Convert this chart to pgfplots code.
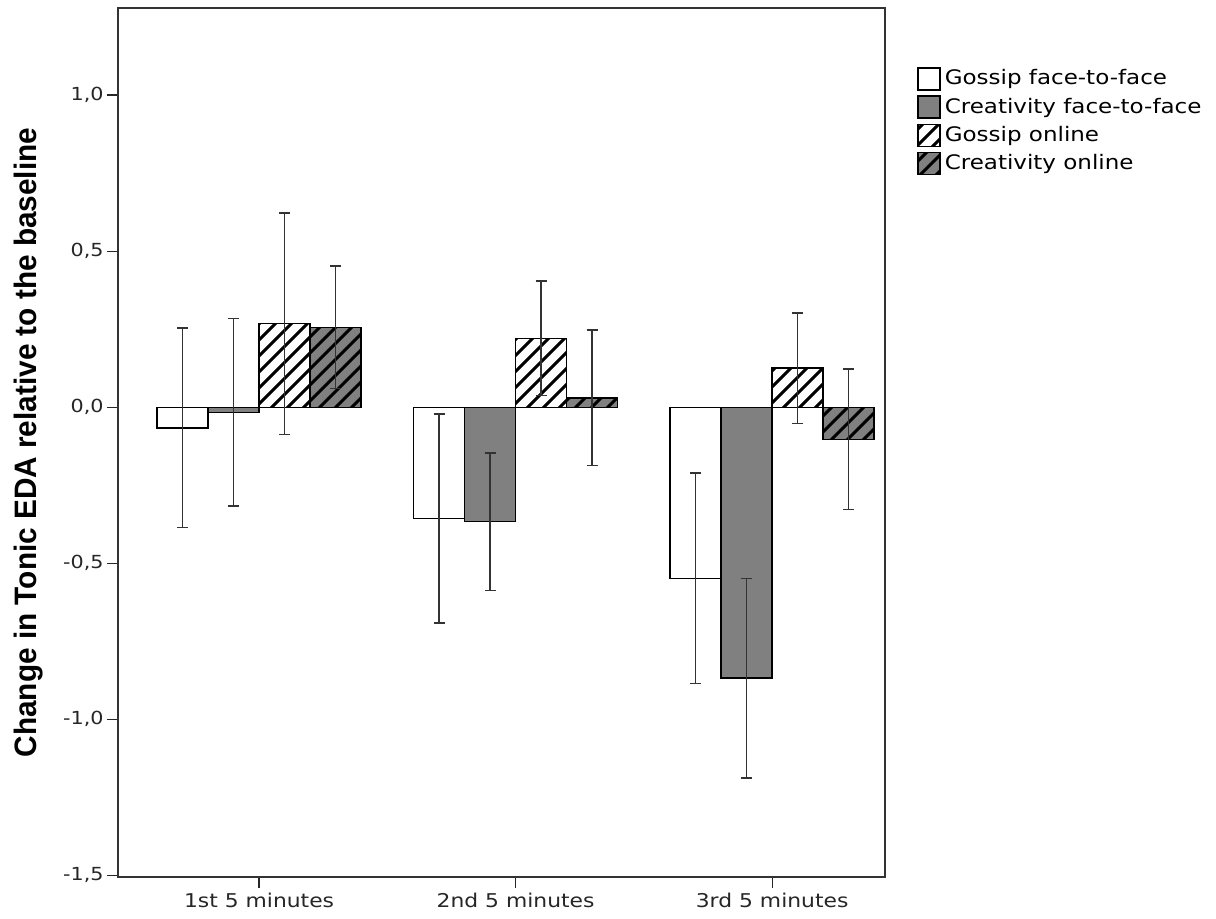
\documentclass[border=0pt]{standalone}
\usepackage{fontspec}
\setmainfont{DejaVu Sans}
\newfontfamily\tickfont[FakeStretch=1.15]{DejaVu Sans}
\newfontfamily\labfont[FakeStretch=0.96]{Liberation Sans}
\usepackage{pgfplots}
\pgfplotsset{compat=1.18}
\usepackage{pgfplotstable}
\usetikzlibrary{patterns}
\newcommand\hatchlines{%
  \pgfsetstrokecolor{black}\pgfsetlinewidth{1.5pt}%
  \pgfpathmoveto{\pgfqpoint{-2pt}{-2pt}}\pgfpathlineto{\pgfqpoint{10pt}{10pt}}%
  \pgfpathmoveto{\pgfqpoint{-2pt}{6pt}}\pgfpathlineto{\pgfqpoint{10pt}{18pt}}%
  \pgfpathmoveto{\pgfqpoint{-2pt}{-10pt}}\pgfpathlineto{\pgfqpoint{10pt}{2pt}}%
  \pgfusepath{stroke}}
\pgfdeclarepatterninherentlycolored{hatchwhite}{\pgfqpoint{-0.5pt}{-0.5pt}}{\pgfqpoint{8.5pt}{8.5pt}}{\pgfqpoint{8pt}{8pt}}{%
  \pgfsetfillcolor{white}\pgfpathrectangle{\pgfqpoint{-0.5pt}{-0.5pt}}{\pgfqpoint{9pt}{9pt}}\pgfusepath{fill}%
  \hatchlines}
\pgfdeclarepatterninherentlycolored{hatchgray}{\pgfqpoint{-0.5pt}{-0.5pt}}{\pgfqpoint{8.5pt}{8.5pt}}{\pgfqpoint{8pt}{8pt}}{%
  \pgfsetfillcolor{gray}\pgfpathrectangle{\pgfqpoint{-0.5pt}{-0.5pt}}{\pgfqpoint{9pt}{9pt}}\pgfusepath{fill}%
  \hatchlines}
\pgfplotstableread{
x   gf      gfe    cf      cfe    go     goe    co      coe
0  -0.066  0.319  -0.016  0.301  0.268  0.355  0.256   0.196
1  -0.357  0.335  -0.367  0.220  0.221  0.183  0.030   0.217
2  -0.548  0.337  -0.868  0.320  0.125  0.177  -0.103  0.225
}\datatable
\begin{document}
\begin{tikzpicture}
\useasboundingbox (0,0) rectangle (608pt,459.5pt);
\begin{axis}[
  at={(59pt,21pt)}, anchor=south west,
  scale only axis, width=383.5pt, height=434.5pt,
  xmin=-0.55, xmax=2.44, ymin=-1.505, ymax=1.279,
  ybar=0pt, bar width=25.5pt,
  axis line style={black!80, line width=0.8pt},
  xtick={0,1,2},
  xticklabels={1st 5 minutes,2nd 5 minutes,3rd 5 minutes},
  ytick={-1.5,-1,-0.5,0,0.5,1},
  /pgf/number format/use comma,
  /pgf/number format/fixed,
  /pgf/number format/fixed zerofill,
  /pgf/number format/precision=1,
  /pgf/number format/assume math mode=true,
  y tick label style={font=\tickfont\fontsize{9pt}{10pt}\selectfont, black!85, inner sep=1.5pt},
  x tick label style={font=\tickfont\fontsize{9.5pt}{11pt}\selectfont, black!85, yshift=1pt},
  tick align=outside, tick pos=left,
  major tick length=5.5pt,
  tick style={black!85, line width=0.6pt},
  ylabel={Change in Tonic EDA relative to the baseline},
  ylabel style={font=\labfont\bfseries\fontsize{15.5pt}{17pt}\selectfont, at={(axis description cs:-0.117,0.5)}, anchor=center},
  legend style={at={(1.0417,0.934)}, anchor=north west, draw=none, fill=none,
    font=\tickfont\fontsize{10pt}{12pt}\selectfont, row sep=1pt, inner sep=0pt,
    cells={anchor=west}},
  error bars/y dir=both, error bars/y explicit,
  error bars/error bar style={black!80, line width=0.75pt},
  error bars/error mark options={black!80, line width=0.75pt, mark size=2.75pt, rotate=90},
]
\addplot[draw=black, line width=0.7pt, fill=white, legend image code/.code={\draw[black, line width=0.7pt, fill=white] (0pt,-5.5pt) rectangle (11pt,5.5pt);}]
  table[x=x, y=gf, y error=gfe]{\datatable};
\addlegendentry{Gossip face-to-face}
\addplot[draw=black, line width=0.7pt, fill=gray, legend image code/.code={\draw[black, line width=0.7pt, fill=gray] (0pt,-5.5pt) rectangle (11pt,5.5pt);}]
  table[x=x, y=cf, y error=cfe]{\datatable};
\addlegendentry{Creativity face-to-face}
\addplot[draw=black, line width=0.7pt, pattern=hatchwhite, legend image code/.code={\draw[black, line width=0.7pt, pattern=hatchwhite] (0pt,-5.5pt) rectangle (11pt,5.5pt);}]
  table[x=x, y=go, y error=goe]{\datatable};
\addlegendentry{Gossip online}
\addplot[draw=black, line width=0.7pt, pattern=hatchgray, legend image code/.code={\draw[black, line width=0.7pt, pattern=hatchgray] (0pt,-5.5pt) rectangle (11pt,5.5pt);}]
  table[x=x, y=co, y error=coe]{\datatable};
\addlegendentry{Creativity online}
\end{axis}
\end{tikzpicture}
\end{document}
